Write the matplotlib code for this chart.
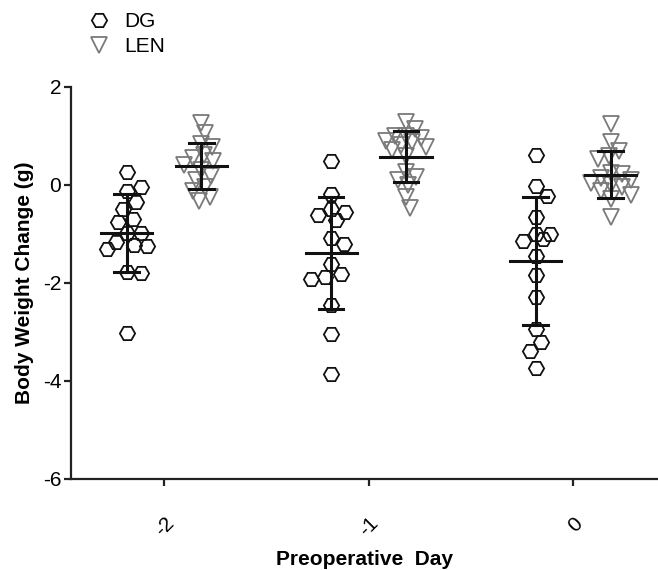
import numpy as np
import matplotlib
matplotlib.use('Agg')
import matplotlib.pyplot as plt
from matplotlib.lines import Line2D

plt.rcParams['font.family'] = ['Liberation Sans', 'DejaVu Sans']

# preoperative days (x categories)
days = ['-2', '-1', '0']

# body weight change (g)
dg_m2 = [0.27, -0.12, -0.05, -0.35, -0.49, -0.69, -0.76, -0.98, -0.98,
         -1.17, -1.22, -1.25, -1.31, -1.78, -1.80, -3.02]
dg_m1 = [0.48, -0.18, -0.49, -0.56, -0.61, -0.71, -1.09, -1.20, -1.61,
         -1.82, -1.87, -1.92, -2.45, -3.04, -3.86]
dg_0 = [0.61, -0.03, -0.22, -0.65, -1.01, -1.00, -1.14, -1.10, -1.44,
        -1.83, -2.29, -2.94, -3.21, -3.39, -3.73]

len_m2 = [1.27, 1.06, 0.84, 0.78, 0.62, 0.55, 0.48, 0.40, 0.30, 0.18,
          0.10, -0.05, -0.12, -0.25, -0.32]
len_m1 = [1.28, 1.14, 1.01, 1.00, 0.95, 0.90, 0.87, 0.82, 0.78, 0.72,
          0.60, 0.26, 0.16, 0.10, -0.01, -0.25, -0.46]
len_0 = [1.24, 0.87, 0.70, 0.60, 0.53, 0.25, 0.22, 0.15, 0.10, 0.05,
         0.00, -0.05, -0.12, -0.20, -0.28, -0.66]

dg_data = [dg_m2, dg_m1, dg_0]
len_data = [len_m2, len_m1, len_0]

PX_X = 204.5   # pixels per category
PX_Y = 49.0    # pixels per gram


def swarm(vals, diam=14.0, limit=20):
    # greedy beeswarm, returns x offsets in category units
    placed = []
    offs = []
    cands = [0]
    for k in range(1, limit + 1):
        cands += [k, -k]
    for v in vals:
        y = v * PX_Y
        best, best_d = 0, -1
        for c in cands:
            d = min([(c - px) ** 2 + (y - py) ** 2 for px, py in placed] or [1e9])
            if d >= diam ** 2:
                best = c
                break
            if d > best_d:
                best, best_d = c, d
        placed.append((best, y))
        offs.append(best / PX_X)
    return np.array(offs)


fig = plt.figure(figsize=(6.58, 5.70), dpi=100)
ax = fig.add_axes([71 / 658, 91 / 570, 587 / 658, 392 / 570])

x = np.arange(len(days))
off = 0.183

for i in range(len(days)):
    for vals, dx, mk, col, dm in [(dg_data[i], -off, 'H', '#111111', 14.0),
                                  (len_data[i], off, 'v', '#7a7a7a', 11.0)]:
        v = np.array(vals)
        xs = x[i] + dx + swarm(v, dm)
        ax.plot(xs, v, ls='none', marker=mk, ms=11, mfc='none', mec=col,
                mew=1.3, zorder=2)
        m = v.mean()
        sd = v.std(ddof=1)
        c = x[i] + dx
        ax.plot([c - 0.125, c + 0.125], [m, m], color='#111111', lw=2.2, zorder=3)
        ax.plot([c, c], [m - sd, m + sd], color='#111111', lw=2.2, zorder=3)
        ax.plot([c - 0.06, c + 0.06], [m + sd, m + sd], color='#111111', lw=2.2, zorder=3)
        ax.plot([c - 0.06, c + 0.06], [m - sd, m - sd], color='#111111', lw=2.2, zorder=3)

ax.set_xlim(-0.455, 2.415)
ax.set_ylim(-6, 2)
ax.set_yticks([-6, -4, -2, 0, 2])
ax.set_yticklabels(['-6', '-4', '-2', '0', '2'])
ax.set_xticks(x)
ax.set_xticklabels(days, rotation=45, ha='right', rotation_mode='anchor')

for s in ['top', 'right']:
    ax.spines[s].set_visible(False)
for s in ['left', 'bottom']:
    ax.spines[s].set_linewidth(1.6)
    ax.spines[s].set_color('#222222')
ax.tick_params(axis='both', direction='out', length=5, width=1.6,
               color='#222222', labelsize=15)
ax.tick_params(axis='y', pad=2)
ax.tick_params(axis='x', pad=20)

ax.set_ylabel('Body Weight Change (g)', fontsize=15, fontweight='bold', labelpad=6)
ax.set_xlabel('Preoperative  Day', fontsize=15, fontweight='bold', labelpad=7)

handles = [Line2D([], [], ls='none', marker='H', ms=11, mfc='none', mec='#111111', mew=1.3),
           Line2D([], [], ls='none', marker='v', ms=11, mfc='none', mec='#7a7a7a', mew=1.3)]
fig.legend(handles, ['DG', 'LEN'], loc='upper left', bbox_to_anchor=(89 / 658, 1 - 12 / 570),
           bbox_transform=fig.transFigure, frameon=False, fontsize=15,
           handlelength=1.0, handletextpad=0.7, labelspacing=0.3,
           borderpad=0, borderaxespad=0)

fig.savefig('out.png', dpi=100)
